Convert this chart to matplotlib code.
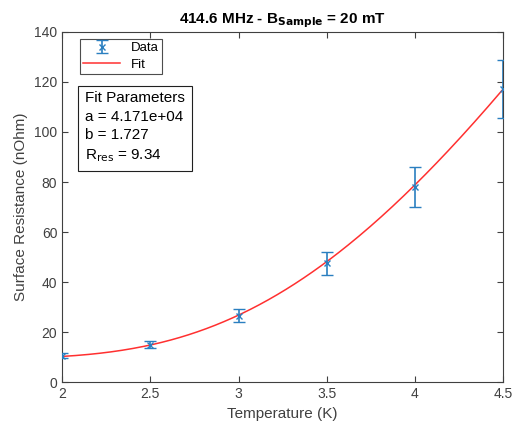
import matplotlib.pyplot as plt
import numpy as np

plt.rcParams['font.family'] = ['Liberation Sans', 'DejaVu Sans']

# measured points
temps = [2.0, 2.5, 3.0, 3.5, 4.0, 4.5]
rs = [10.5, 15.0, 26.5, 47.5, 78.0, 117.0]
rs_err = [1.0, 1.5, 2.6, 4.7, 8.0, 11.6]

# fit parameters (shown in the box)
fit_a = 4.171e4
fit_b = 1.727      # meV
fit_rres = 9.34
kB = 8.617e-2      # meV/K

xticks = [2, 2.5, 3, 3.5, 4, 4.5]
yticks = [0, 20, 40, 60, 80, 100, 120, 140]

blue = '#2a7fc0'
grey = '#404040'

fig = plt.figure(figsize=(5.22, 4.26), dpi=100)
ax = fig.add_axes([0.119, 0.103, 0.845, 0.822])

tt = np.linspace(2, 4.5, 200)
fit = fit_a / tt * np.exp(-fit_b / (kB * tt)) + fit_rres

ln, = ax.plot(tt, fit, color='#ff3030', lw=1.1, label='Fit', zorder=2)
eb = ax.errorbar(temps, rs, yerr=rs_err, fmt='x', color=blue, ms=4, mew=1,
                 elinewidth=1.2, capsize=4, capthick=1.2, label='Data',
                 zorder=3)

ax.set_xlim(2, 4.5)
ax.set_ylim(0, 140)
ax.set_xticks(xticks)
ax.set_xticklabels(['2', '2.5', '3', '3.5', '4', '4.5'])
ax.set_yticks(yticks)
ax.tick_params(direction='in', top=True, right=True, colors=grey,
               labelsize=10, length=4)
for s in ax.spines.values():
    s.set_color(grey)
    s.set_linewidth(0.8)

ax.set_xlabel('Temperature (K)', fontsize=11, color=grey)
ax.set_ylabel('Surface Resistance (nOhm)', fontsize=11, color=grey)
ax.set_title(r'414.6 MHz - B$_{\mathbf{Sample}}$ = 20 mT', fontsize=11,
             fontweight='bold', pad=6)

leg = ax.legend([eb, ln], ['Data', 'Fit'], loc='upper left',
                bbox_to_anchor=(0.04, 0.98),
                fontsize=9.5, fancybox=False, edgecolor='#202020',
                borderpad=0.25, handlelength=2.8, labelspacing=0.3,
                handletextpad=0.8, borderaxespad=0)
leg.get_frame().set_linewidth(0.8)

ax.text(0.052, 0.83, 'Fit Parameters\na = 4.171e+04\nb = 1.727\n' +
        r'R$_{\mathrm{res}}$ = 9.34',
        transform=ax.transAxes, fontsize=11, va='top', ha='left',
        linespacing=1.4,
        bbox=dict(boxstyle='square,pad=0.45', fc='white', ec='#202020', lw=0.8))

fig.savefig('out.png', dpi=100)
